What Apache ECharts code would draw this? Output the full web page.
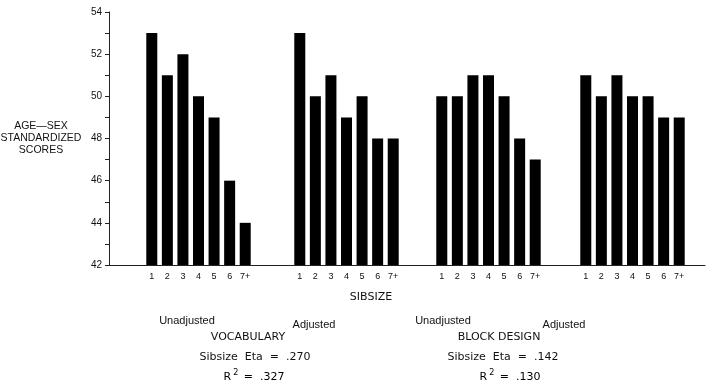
<!DOCTYPE html>
<html><head><meta charset="utf-8">
<script src="https://cdn.jsdelivr.net/npm/echarts@6/dist/echarts.min.js"></script>
<style>html,body{margin:0;padding:0;background:#fff}#c{width:707px;height:384px}</style>
</head><body><div id="c"></div>
<script>
var sibsizes = ['1','2','3','4','5','6','7+'];
var vocabUnadjusted = [53, 51, 52, 50, 49, 46, 44];
var vocabAdjusted   = [53, 50, 51, 49, 50, 48, 48];
var blockUnadjusted = [50, 50, 51, 51, 50, 48, 47];
var blockAdjusted   = [51, 50, 51, 50, 50, 49, 49];
var yMin = 42, yMax = 54;

(function(){
var groups = [vocabUnadjusted, vocabAdjusted, blockUnadjusted, blockAdjusted];
var groupLefts = [144, 292, 434, 578];
var gTop = 12, gBottom = 119, gw = 109;
var font = 'Liberation Sans';
var font2 = 'DejaVu Sans';

var grid = [{left:109, right:2, top:gTop, bottom:gBottom}];
var xAxis = [{gridIndex:0, type:'value', min:0, max:1, axisLine:{show:true, onZero:false, lineStyle:{color:'#222', width:1}},
  axisTick:{show:false}, axisLabel:{show:false}, splitLine:{show:false}}];
var yAxis = [{gridIndex:0, type:'value', min:yMin, max:yMax, interval:1,
  axisLine:{show:true, lineStyle:{color:'#222', width:1}},
  axisTick:{show:true, inside:false, length:4, lineStyle:{color:'#222'}},
  axisLabel:{color:'#111', fontFamily:font, fontSize:10, margin:7,
    formatter:function(v){return v%2===0 ? String(v) : '';}},
  splitLine:{show:false}}];
var series = [];
groups.forEach(function(g, i){
  var gi = i+1;
  grid.push({left:groupLefts[i], width:gw, top:gTop, bottom:gBottom});
  xAxis.push({gridIndex:gi, type:'category', data:sibsizes, axisLine:{show:false}, axisTick:{show:false},
    axisLabel:{color:'#111', fontFamily:font, fontSize:9, margin:7}});
  yAxis.push({gridIndex:gi, type:'value', min:yMin, max:yMax, show:false});
  series.push({type:'bar', xAxisIndex:gi, yAxisIndex:gi, data:g, barWidth:11,
    itemStyle:{color:'#000'}, silent:true, animation:false});
});

function txt(x, y, s, f){
  return {type:'text', x:x, y:y, silent:true,
    style:{text:s, fill:'#111', font:f || ('11px "'+font2+'"'), textAlign:'center', textVerticalAlign:'middle'}};
}
var lower = '11px "'+font+'"';
var upper = '11px "'+font2+'"';
var ylab = '10.5px "'+font+'"';
var rich = {r:{fontFamily:font2, fontSize:11, color:'#111'}, s:{fontFamily:font2, fontSize:8, color:'#111', verticalAlign:'top', padding:[0,2,8,2]}};
var graphics = [
  txt(41, 126, 'AGE\u2014SEX', ylab),
  txt(41, 138, 'STANDARDIZED', ylab),
  txt(41, 150, 'SCORES', ylab),
  txt(371, 297, 'SIBSIZE', '11px "'+font2+'"'),
  txt(187, 321, 'Unadjusted', lower),
  txt(314, 325, 'Adjusted', lower),
  txt(443, 321, 'Unadjusted', lower),
  txt(564, 325, 'Adjusted', lower),
  txt(248, 337, 'VOCABULARY', upper),
  txt(499, 337, 'BLOCK DESIGN', upper),
  txt(255, 357, 'Sibsize  Eta  =  .270'),
  txt(503, 357, 'Sibsize  Eta  =  .142'),
  {type:'text', x:254, y:377, silent:true, style:{text:'{r|R}{s|2}{r| =  .327}', rich:rich, textAlign:'center', textVerticalAlign:'middle'}},
  {type:'text', x:510, y:377, silent:true, style:{text:'{r|R}{s|2}{r| =  .130}', rich:rich, textAlign:'center', textVerticalAlign:'middle'}}
];

var chart = echarts.init(document.getElementById('c'), null, {renderer:'canvas'});
chart.setOption({animation:false, backgroundColor:'#fff', grid:grid, xAxis:xAxis, yAxis:yAxis, series:series, graphic:graphics});
})();
</script></body></html>
